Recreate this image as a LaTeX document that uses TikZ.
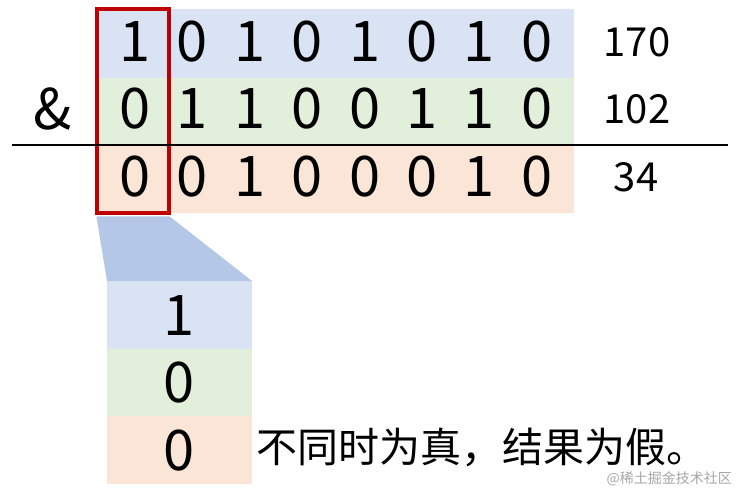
\documentclass[tikz,border=0pt]{standalone}
\usepackage{fontspec}
\setmainfont{Noto Sans CJK SC}
\definecolor{bandblue}{HTML}{DAE3F3}
\definecolor{bandgreen}{HTML}{E2EFDA}
\definecolor{bandorange}{HTML}{FBE5D6}
\definecolor{trap}{HTML}{B4C7E7}
\definecolor{redbox}{HTML}{C00000}
\begin{document}
\begin{tikzpicture}[x=1pt,y=-1pt,
  digit/.style={inner sep=0pt,font=\fontsize{56}{56}\selectfont},
  num/.style={inner sep=0pt,font=\fontsize{40}{40}\selectfont},
  cjk/.style={inner sep=0pt,anchor=west,font=\fontsize{41}{41}\selectfont},
]
\useasboundingbox (0,0) rectangle (738,494);
% bands
\fill[bandblue] (98,9) rectangle (574,78);
\fill[bandgreen] (98,78) rectangle (574,145);
\fill[bandorange] (98,145) rectangle (574,213);
% lower column
\fill[bandblue] (107,281) rectangle (252,349);
\fill[bandgreen] (107,349) rectangle (252,416);
\fill[bandorange] (107,416) rectangle (252,484);
% red box
\node[draw=redbox,line width=3.2pt,minimum width=72pt,minimum height=204pt,inner sep=0pt] (rb) at (133,111) {};
\coordinate (colTL) at (107,281);
\coordinate (colTR) at (252,281);
\fill[trap] ([xshift=1pt,yshift=-1.8pt]rb.south west) -- ([xshift=-1pt,yshift=-1.8pt]rb.south east) -- (colTR) -- (colTL) -- cycle;
% digits
\foreach \d [count=\i from 0] in {1,0,1,0,1,0,1,0} {
  \node[digit] (a\i) at (135+57.4*\i,42) {\d};
}
\foreach \d [count=\i from 0] in {0,1,1,0,0,1,1,0} {
  \node[digit] (b\i) at (135+57.4*\i,109) {\d};
}
\foreach \d [count=\i from 0] in {0,0,1,0,0,0,1,0} {
  \node[digit] (c\i) at (135+57.4*\i,177) {\d};
}
\node[digit] (amp) at (53,109) {\&};
\node[num] (n1) at (637,42) {170};
\node[num] (n2) at (637,109) {102};
\node[num] (n3) at (636,177) {34};
\coordinate (lineL) at (12,145);
\coordinate (lineR) at (728,145);
\draw[line width=1.5pt] (lineL) -- (lineR);
% column digits
\node[digit] (d1) at (179,316) {1};
\node[digit] (d2) at (179,383) {0};
\node[digit] (d3) at (179,451) {0};
\node[cjk] (txt) at (256,447) {不同时为真，结果为假。};
\node[inner sep=0pt,anchor=east,text=black!35,font=\fontsize{14}{14}\selectfont] (wm) at (732,479) {@稀土掘金技术社区};
\end{tikzpicture}
\end{document}
